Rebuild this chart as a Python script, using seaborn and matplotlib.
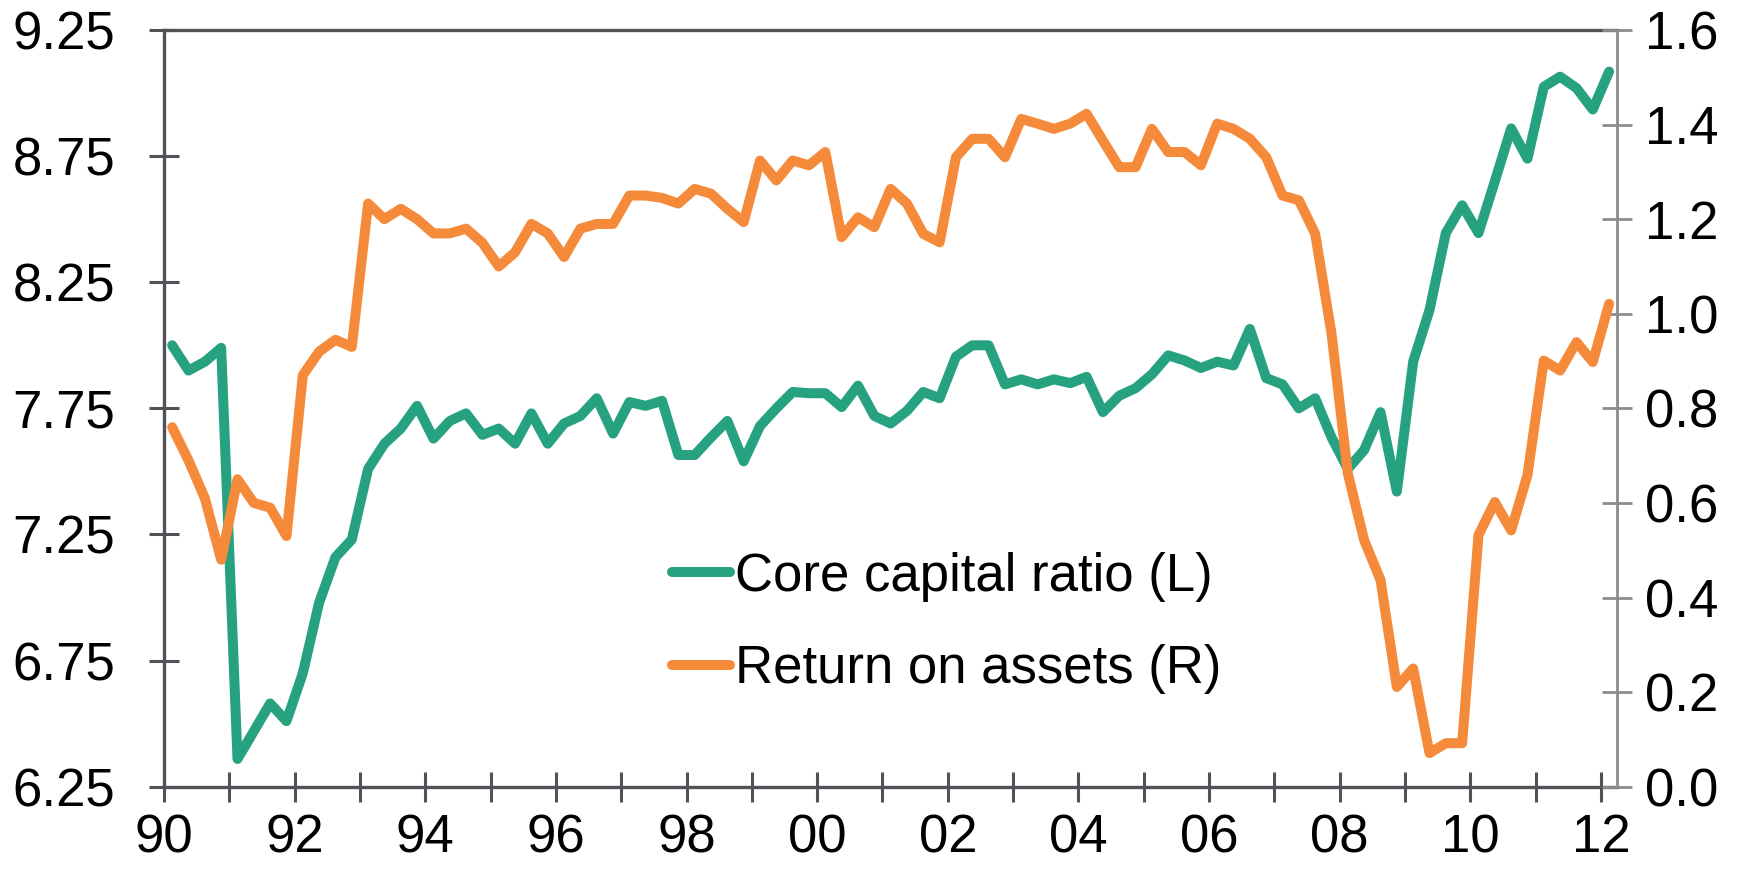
import numpy as np
import pandas as pd
import matplotlib
matplotlib.use("Agg")
import matplotlib.pyplot as plt
import seaborn as sns

# quarterly data, 1990Q1 - 2012Q1
quarters = pd.period_range("1990Q1", "2012Q1", freq="Q")

core_capital = [
    8.00, 7.90, 7.935, 7.99, 6.36, 6.47, 6.58, 6.51, 6.70, 6.98,
    7.16, 7.23, 7.51, 7.61, 7.67, 7.76, 7.63, 7.70, 7.73, 7.645,
    7.67, 7.61, 7.73, 7.61, 7.69, 7.72, 7.79, 7.65, 7.775, 7.76,
    7.78, 7.565, 7.565, 7.635, 7.70, 7.54, 7.68, 7.75, 7.815, 7.81,
    7.81, 7.755, 7.84, 7.72, 7.69, 7.74, 7.815, 7.79, 7.955, 8.00,
    8.00, 7.845, 7.865, 7.845, 7.865, 7.85, 7.875, 7.735, 7.80, 7.83,
    7.885, 7.96, 7.94, 7.91, 7.935, 7.92, 8.065, 7.87, 7.845, 7.75,
    7.79, 7.635, 7.51, 7.585, 7.735, 7.42, 7.935, 8.14, 8.445, 8.555,
    8.445, 8.65, 8.86, 8.74, 9.025, 9.065, 9.02, 8.935, 9.085,
]

roa = [
    0.76, 0.69, 0.61, 0.48, 0.65, 0.60, 0.59, 0.53, 0.87, 0.92,
    0.945, 0.93, 1.233, 1.20, 1.222, 1.20, 1.17, 1.17, 1.18, 1.15,
    1.10, 1.13, 1.19, 1.17, 1.12, 1.18, 1.19, 1.19, 1.25, 1.25,
    1.245, 1.233, 1.264, 1.254, 1.222, 1.194, 1.324, 1.282, 1.324, 1.314,
    1.342, 1.162, 1.204, 1.183, 1.264, 1.233, 1.169, 1.151, 1.331, 1.37,
    1.37, 1.331, 1.412, 1.402, 1.391, 1.402, 1.423, 1.366, 1.31, 1.31,
    1.391, 1.342, 1.342, 1.314, 1.402, 1.391, 1.37, 1.331, 1.25, 1.24,
    1.169, 0.958, 0.662, 0.521, 0.437, 0.211, 0.25, 0.071, 0.092, 0.092,
    0.532, 0.602, 0.542, 0.659, 0.901, 0.88, 0.94, 0.898, 1.021,
]

labels = ["Core capital ratio (L)", "Return on assets (R)"]
green = "#27a281"
orange = "#f58a3a"
dark = "#4f5257"
light = "#8c8c8c"

# plot each quarter in the middle of its slot on a decimal-year axis
df = pd.DataFrame({
    "t": quarters.year + (quarters.quarter - 1) / 4 + 0.125,
    "core": core_capital,
    "roa": roa,
})

sns.set_style("white")
plt.rcParams["font.family"] = ["Liberation Sans", "DejaVu Sans"]
plt.rcParams["text.color"] = "black"

fig = plt.figure(figsize=(17.56, 8.75), dpi=100)
ax = fig.add_axes([0.0934, 0.1009, 0.921 - 0.0934, 0.9657 - 0.1009])
ax2 = ax.twinx()

sns.lineplot(data=df, x="t", y="core", ax=ax, color=green, linewidth=7.2,
             solid_capstyle="round", label=labels[0])
sns.lineplot(data=df, x="t", y="roa", ax=ax2, color=orange, linewidth=7.2,
             solid_capstyle="round", label=labels[1])

ax.set_xlim(1990, 2012.25)
ax.set_ylim(6.25, 9.25)
ax2.set_ylim(0, 1.6)

years = np.arange(1990, 2013)
ax.set_xticks(years)
ax.set_xticklabels([f"{y % 100:02d}" if y % 2 == 0 else "" for y in years])
ax.set_yticks(np.arange(6.25, 9.26, 0.5))
ax.set_yticklabels([f"{v:.2f}" for v in np.arange(6.25, 9.26, 0.5)])
ax2.set_yticks(np.arange(0, 1.61, 0.2))
ax2.set_yticklabels([f"{v:.1f}" for v in np.arange(0, 1.61, 0.2)])

ax.set_xlabel("")
ax.set_ylabel("")
ax2.set_ylabel("")

ax.tick_params(axis="x", bottom=True, direction="inout", length=22, width=2.2,
               color=dark, labelsize=38, labelcolor="black", pad=8)
ax.tick_params(axis="y", left=True, direction="inout", length=22, width=2.2,
               color=dark, labelsize=38, labelcolor="black", pad=24)
ax2.tick_params(axis="y", right=True, direction="inout", length=22, width=2,
                color=light, labelsize=38, labelcolor="black", pad=9)

for name in ["left", "bottom", "top"]:
    ax.spines[name].set_color(dark)
    ax.spines[name].set_linewidth(2.4)
    ax2.spines[name].set_visible(False)
ax.spines["right"].set_visible(False)
ax2.spines["right"].set_color(light)
ax2.spines["right"].set_linewidth(2)

# single legend for both axes
h1, _ = ax.get_legend_handles_labels()
h2, _ = ax2.get_legend_handles_labels()
ax.get_legend().remove()
ax2.get_legend().remove()
ax2.legend(h1 + h2, labels, loc="center left",
           bbox_to_anchor=(672 / 1756, 1 - 623 / 875),
           bbox_transform=fig.transFigure, frameon=False, fontsize=38,
           handlelength=1.1, handletextpad=0.1, labelspacing=0.8,
           borderpad=0, borderaxespad=0)

fig.savefig("out.png", dpi=100)
